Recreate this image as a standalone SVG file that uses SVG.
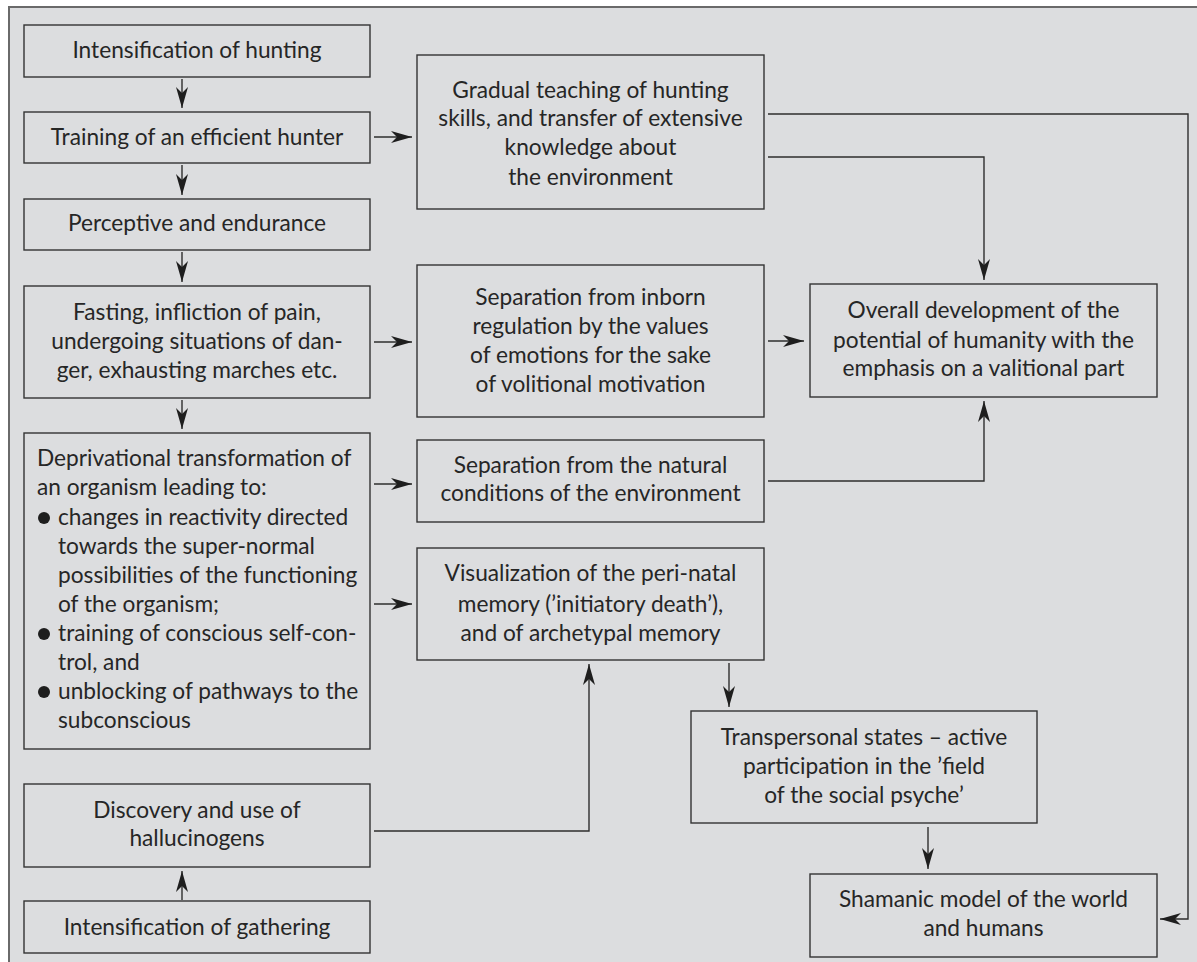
<svg xmlns="http://www.w3.org/2000/svg" width="1197" height="962" viewBox="0 0 1197 962">
<defs>
<style>
.bx{fill:none;stroke:#333333;stroke-width:1.4}
.t{font-family:Lato,"Open Sans","Liberation Sans",sans-serif;font-size:22.7px;fill:#262626;text-anchor:middle}
.tl{font-family:Lato,"Open Sans","Liberation Sans",sans-serif;font-size:22.7px;fill:#262626}
.c{fill:none;stroke:#2e2e2e;stroke-width:1.4}
</style>
<marker id="ah" markerUnits="userSpaceOnUse" markerWidth="24" markerHeight="14" viewBox="-22 -7 24 14" refX="0" refY="0" orient="auto">
<path d="M0,0 L-21,-6 L-15,0 L-21,6 Z" fill="#1e1e1e"/>
</marker>
</defs>
<rect x="0" y="0" width="1197" height="962" fill="#ffffff"/>
<rect x="9" y="7" width="1200" height="970" fill="#dcdddf" stroke="#6a6a6a" stroke-width="2"/>

<g id="connectors">
<line class="c" x1="182" y1="79" x2="182" y2="108" marker-end="url(#ah)"/>
<line class="c" x1="182" y1="165" x2="182" y2="195" marker-end="url(#ah)"/>
<line class="c" x1="182" y1="252" x2="182" y2="282" marker-end="url(#ah)"/>
<line class="c" x1="182" y1="400" x2="182" y2="429" marker-end="url(#ah)"/>
<line class="c" x1="182" y1="900" x2="182" y2="871" marker-end="url(#ah)"/>
<line class="c" x1="374" y1="137" x2="412" y2="137" marker-end="url(#ah)"/>
<line class="c" x1="374" y1="342" x2="412" y2="342" marker-end="url(#ah)"/>
<line class="c" x1="374" y1="484" x2="412" y2="484" marker-end="url(#ah)"/>
<line class="c" x1="374" y1="604" x2="412" y2="604" marker-end="url(#ah)"/>
<line class="c" x1="768" y1="341" x2="804" y2="341" marker-end="url(#ah)"/>
<polyline class="c" points="768,114 1188,114 1188,919 1160,919" marker-end="url(#ah)"/>
<polyline class="c" points="768,157 984,157 984,280" marker-end="url(#ah)"/>
<polyline class="c" points="768,481 984,481 984,401" marker-end="url(#ah)"/>
<polyline class="c" points="374,831 589,831 589,664" marker-end="url(#ah)"/>
<line class="c" x1="729" y1="663" x2="729" y2="707" marker-end="url(#ah)"/>
<line class="c" x1="928" y1="827" x2="928" y2="869" marker-end="url(#ah)"/>
</g>

<g id="n1"><rect class="bx" x="24" y="25" width="346" height="52"/><text class="t" x="197" y="58">Intensification of hunting</text></g>
<g id="n2"><rect class="bx" x="24" y="112" width="346" height="51"/><text class="t" x="197" y="145">Training of an efficient hunter</text></g>
<g id="n3"><rect class="bx" x="24" y="199" width="346" height="51"/><text class="t" x="197" y="231">Perceptive and endurance</text></g>
<g id="n4"><rect class="bx" x="24" y="286" width="346" height="112"/>
<text class="t" x="197" y="320">Fasting, infliction of pain,</text>
<text class="t" x="197" y="349">undergoing situations of dan-</text>
<text class="t" x="197" y="378">ger, exhausting marches etc.</text></g>
<g id="n5"><rect class="bx" x="24" y="433" width="346" height="316"/>
<text class="tl" x="37" y="466">Deprivational transformation of</text>
<text class="tl" x="37" y="495">an organism leading to:</text>
<circle cx="44" cy="518" r="6" fill="#1e1e1e"/>
<text class="tl" x="58" y="525">changes in reactivity directed</text>
<text class="tl" x="58" y="554">towards the super-normal</text>
<text class="tl" x="58" y="583">possibilities of the functioning</text>
<text class="tl" x="58" y="612">of the organism;</text>
<circle cx="44" cy="634" r="6" fill="#1e1e1e"/>
<text class="tl" x="58" y="641">training of conscious self-con-</text>
<text class="tl" x="58" y="670">trol, and</text>
<circle cx="44" cy="692" r="6" fill="#1e1e1e"/>
<text class="tl" x="58" y="699">unblocking of pathways to the</text>
<text class="tl" x="58" y="728">subconscious</text></g>
<g id="n6"><rect class="bx" x="24" y="784" width="346" height="83"/>
<text class="t" x="197" y="818">Discovery and use of</text>
<text class="t" x="197" y="846">hallucinogens</text></g>
<g id="n7"><rect class="bx" x="24" y="901" width="346" height="52"/><text class="t" x="197" y="935">Intensification of gathering</text></g>

<g id="n8"><rect class="bx" x="417" y="55" width="347" height="154"/>
<text class="t" x="590.5" y="98">Gradual teaching of hunting</text>
<text class="t" x="590.5" y="126">skills, and transfer of extensive</text>
<text class="t" x="590.5" y="155">knowledge about</text>
<text class="t" x="590.5" y="185">the environment</text></g>
<g id="n9"><rect class="bx" x="417" y="265" width="347" height="152"/>
<text class="t" x="590.5" y="305">Separation from inborn</text>
<text class="t" x="590.5" y="334">regulation by the values</text>
<text class="t" x="590.5" y="363">of emotions for the sake</text>
<text class="t" x="590.5" y="392">of volitional motivation</text></g>
<g id="n10"><rect class="bx" x="417" y="440" width="347" height="82"/>
<text class="t" x="590.5" y="473">Separation from the natural</text>
<text class="t" x="590.5" y="501">conditions of the environment</text></g>
<g id="n11"><rect class="bx" x="417" y="548" width="347" height="112"/>
<text class="t" x="590.5" y="581">Visualization of the peri-natal</text>
<text class="t" x="590.5" y="612">memory (’initiatory death’),</text>
<text class="t" x="590.5" y="641">and of archetypal memory</text></g>

<g id="n12"><rect class="bx" x="810" y="284" width="347" height="113"/>
<text class="t" x="983.5" y="318">Overall development of the</text>
<text class="t" x="983.5" y="348">potential of humanity with the</text>
<text class="t" x="983.5" y="376">emphasis on a valitional part</text></g>
<g id="n13"><rect class="bx" x="691" y="711" width="346" height="112"/>
<text class="t" x="864" y="745">Transpersonal states – active</text>
<text class="t" x="864" y="774">participation in the ’field</text>
<text class="t" x="864" y="803">of the social psyche’</text></g>
<g id="n14"><rect class="bx" x="810" y="874" width="347" height="83"/>
<text class="t" x="983.5" y="907">Shamanic model of the world</text>
<text class="t" x="983.5" y="936">and humans</text></g>
</svg>
